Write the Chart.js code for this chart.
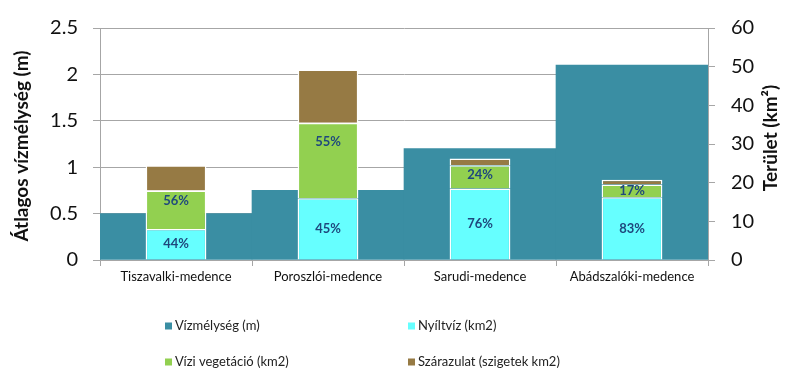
<!DOCTYPE html>
<html>
<head>
<meta charset="utf-8">
<script src="https://cdn.jsdelivr.net/npm/chart.js@4"></script>
<style>
  html,body{margin:0;padding:0;background:#fff;}
  #wrap{width:800px;height:384px;}
</style>
</head>
<body>
<div id="wrap"><canvas id="grafico" width="800" height="384"></canvas></div>
<script>
const medencek=["Tiszavalki-medence","Poroszlói-medence","Sarudi-medence","Abádszalóki-medence"];

const vizmelyseg=[0.5,0.75,1.2,2.1];
const nyiltviz=[8,16,18.5,16.25];
const vegetacio=[10,19.5,6,3.25];
const szarazulat=[6.5,13.75,1.75,1.25];

const nyiltvizSzazalek=["44%","45%","76%","83%"];
const vegetacioSzazalek=["56%","55%","24%","17%"];

const melysegTicks=[0,0.5,1,1.5,2,2.5];
const teruletTicks=[0,10,20,30,40,50,60];

const FONT="Lato, 'Open Sans', sans-serif";
const GRID="#a6a6a6";

// szazalekok a savokban
const szazalekPlugin={
  id:"szazalekok",
  afterDatasetsDraw(chart){
    const ctx=chart.ctx;
    ctx.save();
    ctx.font="bold 13px "+FONT;
    ctx.fillStyle="#1f487d";
    ctx.textAlign="center";
    ctx.textBaseline="middle";
    chart.getDatasetMeta(1).data.forEach((bar,i)=>{
      ctx.fillText(nyiltvizSzazalek[i],bar.x,(bar.y+bar.base)/2);
    });
    chart.getDatasetMeta(2).data.forEach((bar,i)=>{
      const h=bar.base-bar.y;
      ctx.fillText(vegetacioSzazalek[i],bar.x,bar.y+Math.max(h/4,Math.min(h/2,10)));
    });
    ctx.restore();
  }
};

// tengelycimek es jelmagyarazat
const feliratPlugin={
  id:"feliratok",
  afterDraw(chart){
    const ctx=chart.ctx;
    ctx.save();
    ctx.fillStyle="#111";
    ctx.font="bold 19px "+FONT;
    ctx.textAlign="center";
    ctx.textBaseline="middle";
    ctx.translate(22,146);
    ctx.rotate(-Math.PI/2);
    ctx.fillText("Átlagos vízmélység (m)",0,0);
    ctx.restore();

    ctx.save();
    ctx.fillStyle="#111";
    ctx.font="bold 19px "+FONT;
    ctx.textAlign="center";
    ctx.textBaseline="middle";
    ctx.translate(771,138);
    ctx.rotate(-Math.PI/2);
    ctx.fillText("Terület (km²)",0,0);
    ctx.restore();

    const helyek=[[165,326],[408,326],[165,362],[408,362]];
    ctx.save();
    ctx.font="13px "+FONT;
    ctx.textBaseline="middle";
    ctx.textAlign="left";
    chart.data.datasets.forEach((ds,i)=>{
      const [x,y]=helyek[i];
      ctx.fillStyle=ds.backgroundColor;
      ctx.fillRect(x,y-3.5,7,7);
      ctx.fillStyle="#222";
      ctx.fillText(ds.label,x+10,y);
    });
    ctx.restore();
  }
};

const savAlap={
  borderColor:"#ffffff",
  borderWidth:1.5,
  borderSkipped:"start",
  xAxisID:"x",
  yAxisID:"y1",
  grouped:false,
  categoryPercentage:1,
  barPercentage:0.4,
  order:0
};

new Chart("grafico",{
  type:"bar",
  data:{
    labels:medencek,
    datasets:[
      {
        label:"Vízmélység (m)",
        data:vizmelyseg,
        backgroundColor:"#3a8ea3",
        borderWidth:0,
        xAxisID:"x2",
        yAxisID:"y",
        grouped:false,
        categoryPercentage:1,
        barPercentage:1,
        order:1
      },
      Object.assign({label:"Nyíltvíz (km2)",data:nyiltviz,backgroundColor:"#66ffff"},savAlap),
      Object.assign({label:"Vízi vegetáció (km2)",data:vegetacio,backgroundColor:"#92d050"},savAlap),
      Object.assign({label:"Szárazulat (szigetek km2)",data:szarazulat,backgroundColor:"#967a44"},savAlap)
    ]
  },
  options:{
    responsive:false,
    animation:false,
    layout:{padding:{top:20,left:0,right:0,bottom:0}},
    plugins:{
      legend:{display:false},
      tooltip:{enabled:false}
    },
    scales:{
      x:{
        stacked:true,
        offset:true,
        afterFit(s){s.height=124;},
        grid:{drawOnChartArea:false,drawTicks:true,tickLength:6,color:GRID,offset:true},
        border:{display:true,color:GRID},
        ticks:{font:{family:FONT,size:13},color:"#111",padding:3,maxRotation:0}
      },
      x2:{
        type:"category",
        display:false,
        offset:true
      },
      y:{
        position:"left",
        min:0,max:2.5,
        afterFit(s){s.width=100;},
        afterBuildTicks(s){s.ticks=melysegTicks.map(v=>({value:v}));},
        grid:{color:GRID,tickLength:7},
        border:{display:true,color:GRID},
        ticks:{font:{family:FONT,size:20},color:"#111",padding:15,callback:v=>String(v)}
      },
      y1:{
        position:"right",
        stacked:true,
        min:0,max:60,
        afterFit(s){s.width=92;},
        afterBuildTicks(s){s.ticks=teruletTicks.map(v=>({value:v}));},
        grid:{drawOnChartArea:false,color:GRID,tickLength:7},
        border:{display:true,color:GRID},
        ticks:{font:{family:FONT,size:20},color:"#111",padding:16,callback:v=>String(v)}
      }
    }
  },
  plugins:[szazalekPlugin,feliratPlugin]
});
</script>
</body>
</html>
